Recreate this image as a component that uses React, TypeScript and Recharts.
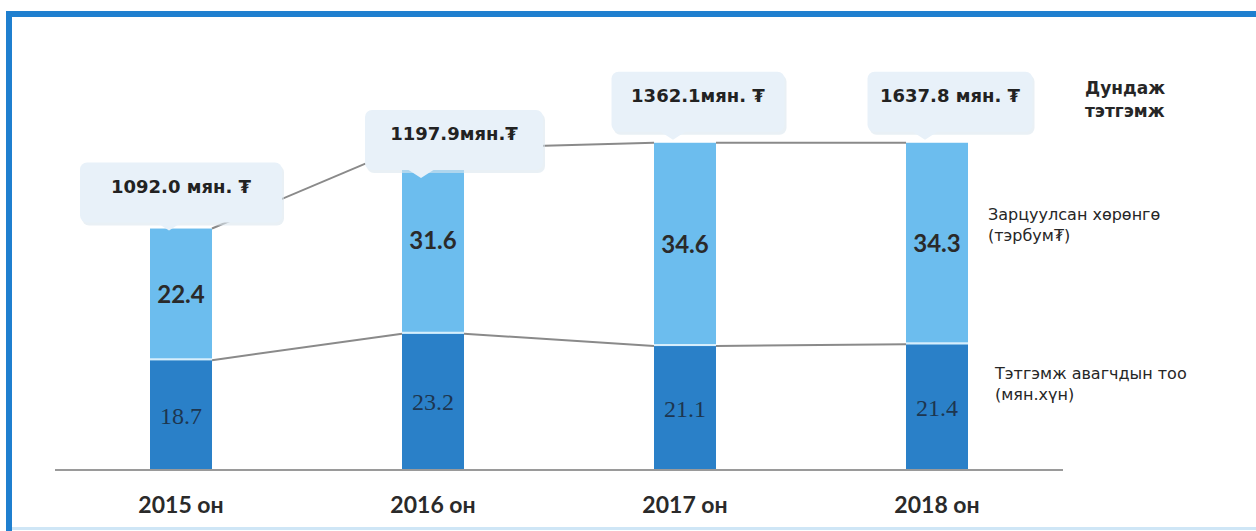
import { BarChart, Bar, XAxis, YAxis, LabelList } from "recharts";

// values
const years = ["2015 он", "2016 он", "2017 он", "2018 он"];
const recipients = [18.7, 23.2, 21.1, 21.4]; // Тэтгэмж авагчдын тоо (мян.хүн)
const spending = [22.4, 31.6, 34.6, 34.3]; // Зарцуулсан хөрөнгө (тэрбум₮)
const avgBenefit = ["1092.0 мян. ₮", "1197.9мян.₮", "1362.1мян. ₮", "1637.8 мян. ₮"];

const data = years.map((year, i) => ({
  year,
  recipients: recipients[i],
  spending: spending[i],
}));

// callout placement relative to the top of each bar (layout only)
const calloutBox = [
  { dx: 0, dy: -6, w: 202 },
  { dx: 21, dy: 22, w: 178 },
  { dx: 13, dy: -11, w: 173 },
  { dx: 13, dy: -11, w: 165 },
];

const GAP = 0.377;
const LIGHT = "#6cbdee";
const DARK = "#2a80c8";
const SERIES_LINE = "#8a8a8a";

const DarkShape = (props: any) => {
  const { x, y, width, height, index } = props;
  const unit = height / recipients[index];
  const step = width / (1 - 2 * GAP);
  const next = index < recipients.length - 1;
  const yNext = next ? y - (recipients[index + 1] - recipients[index]) * unit : y;
  return (
    <g>
      <rect x={x} y={y} width={width} height={height} fill={DARK} />
      {next && (
        <line x1={x + width} y1={y} x2={x + step} y2={yNext} stroke={SERIES_LINE} strokeWidth={2} />
      )}
    </g>
  );
};

const LightShape = (props: any) => {
  const { x, y, width, height, index } = props;
  const unit = height / spending[index];
  const step = width / (1 - 2 * GAP);
  const totals = spending.map((v, i) => v + recipients[i]);
  const next = index < totals.length - 1;
  const yNext = next ? y - (totals[index + 1] - totals[index]) * unit : y;
  const box = calloutBox[index];
  const cx = x + width / 2 + box.dx;
  const bottom = y + box.dy;
  const h = 60;
  const tailX = x + width / 2 - 12;
  return (
    <g>
      <rect x={x} y={y} width={width} height={height} fill={LIGHT} />
      <line x1={x} y1={y + height - 1} x2={x + width} y2={y + height - 1} stroke="#d6eefc" strokeWidth={2} />
      {next && (
        <line x1={x + width} y1={y} x2={x + step} y2={yNext} stroke={SERIES_LINE} strokeWidth={2} />
      )}
      <rect x={cx - box.w / 2 + 2} y={bottom - h + 3} width={box.w} height={h} rx={7} fill="#dbe6ef" opacity={0.6} />
      <rect x={cx - box.w / 2} y={bottom - h} width={box.w} height={h} rx={7} fill="#e8f1f9" />
      <path d={`M${tailX - 14},${bottom - 1} L${tailX},${bottom + 8} L${tailX + 14},${bottom - 1} Z`} fill="#e8f1f9" />
      <text
        x={cx}
        y={bottom - h + 30}
        textAnchor="middle"
        fontFamily="'DejaVu Sans', sans-serif"
        fontWeight="bold"
        fontSize={18}
        fill="#222"
      >
        {avgBenefit[index]}
      </text>
    </g>
  );
};

const YearTick = ({ x, y, payload }: any) => (
  <text
    x={x}
    y={y + 43}
    textAnchor="middle"
    fontFamily="Lato, 'Open Sans', sans-serif"
    fontWeight="bold"
    fontSize={23}
    fill="#2a2a2a"
  >
    {payload.value}
  </text>
);

const sideText: React.CSSProperties = {
  position: "absolute",
  fontFamily: "'DejaVu Sans', sans-serif",
  fontSize: 16,
  lineHeight: "21px",
  color: "#262626",
  whiteSpace: "nowrap",
};

export default function App() {
  return (
    <div
      style={{
        position: "absolute",
        left: 0,
        top: 0,
        width: 1256,
        height: 531,
        background: "#fff",
        overflow: "hidden",
      }}
    >
      <div
        style={{
          position: "absolute",
          left: 6,
          top: 11,
          width: 1262,
          height: 540,
          borderTop: "6px solid #1f7fcf",
          borderLeft: "6px solid #1f7fcf",
        }}
      />
      <div style={{ position: "absolute", left: 12, top: 527, width: 1244, height: 3, background: "#cfe6f6" }} />

      <div style={{ position: "absolute", left: 0, top: 0 }}>
        <BarChart
          width={1256}
          height={531}
          data={data}
          margin={{ top: 0, right: 193, left: 55, bottom: 31 }}
          barCategoryGap={`${GAP * 100}%`}
        >
          <XAxis
            dataKey="year"
            height={30}
            axisLine={{ stroke: "#9a9a9a", strokeWidth: 2 }}
            tickLine={false}
            tickSize={0}
            tickMargin={0}
            tick={<YearTick />}
            interval={0}
          />
          <YAxis hide type="number" domain={[0, 80]} />
          <Bar dataKey="recipients" stackId="a" shape={<DarkShape />} isAnimationActive={false}>
            <LabelList
              dataKey="recipients"
              position="center"
              fill="#1d3650"
              fontSize={24}
              fontFamily="'Liberation Serif', 'DejaVu Serif', serif"
              formatter={(v: any) => Number(v).toFixed(1)}
            />
          </Bar>
          <Bar dataKey="spending" stackId="a" shape={<LightShape />} isAnimationActive={false}>
            <LabelList
              dataKey="spending"
              position="center"
              fill="#2a2a2a"
              fontSize={24}
              fontWeight="bold"
              fontFamily="Lato, 'Open Sans', sans-serif"
              formatter={(v: any) => Number(v).toFixed(1)}
            />
          </Bar>
        </BarChart>
      </div>

      <div
        style={{
          ...sideText,
          left: 1085,
          top: 77,
          fontWeight: "bold",
          fontSize: 17,
          lineHeight: "23px",
        }}
      >
        Дундаж
        <br />
        тэтгэмж
      </div>
      <div style={{ ...sideText, left: 988, top: 204 }}>
        Зарцуулсан хөрөнгө
        <br />
        (тэрбум₮)
      </div>
      <div style={{ ...sideText, left: 995, top: 363 }}>
        Тэтгэмж авагчдын тоо
        <br />
        (мян.хүн)
      </div>
    </div>
  );
}
